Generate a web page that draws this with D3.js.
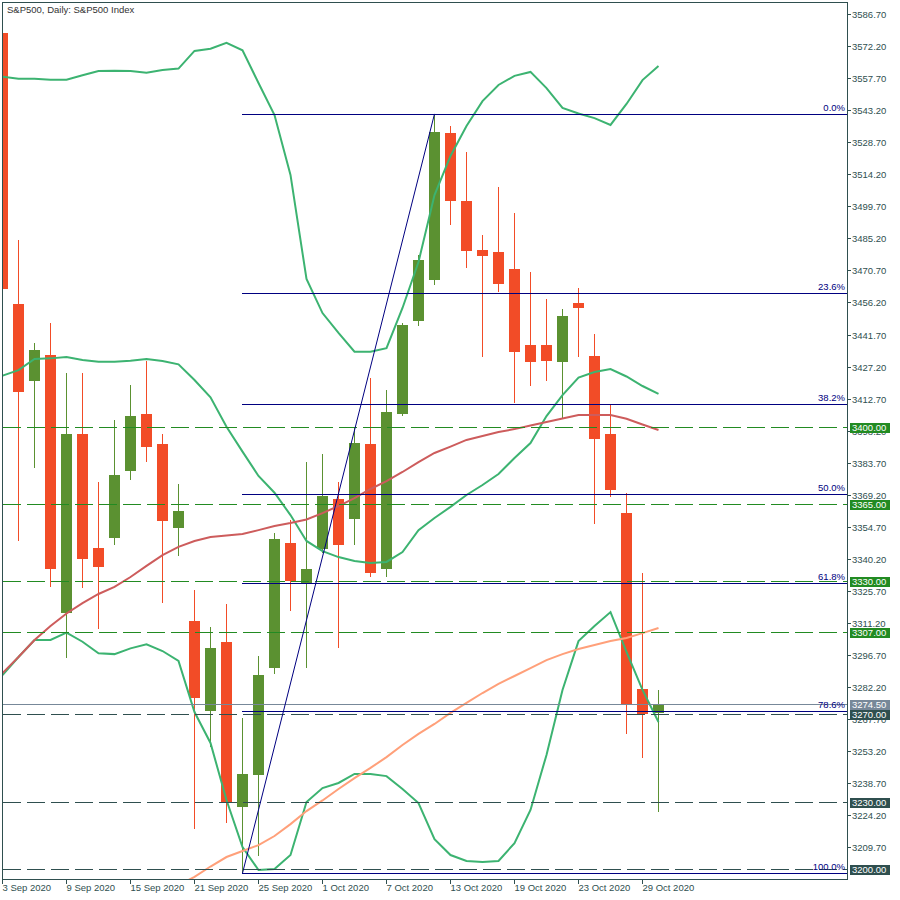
<!DOCTYPE html>
<html><head><meta charset="utf-8">
<script src="https://cdn.jsdelivr.net/npm/d3@7"></script>
<style>
html,body{margin:0;padding:0;background:#fff;}
svg{display:block;font-family:"Liberation Sans",Arial,sans-serif;}
</style></head><body>
<svg id="chart" width="900" height="900"></svg>
<script>
// ---------- DATA ----------
const dates = ["2020-09-03","2020-09-04","2020-09-07","2020-09-08","2020-09-09","2020-09-10","2020-09-11","2020-09-14","2020-09-15","2020-09-16","2020-09-17","2020-09-18","2020-09-21","2020-09-22","2020-09-23","2020-09-24","2020-09-25","2020-09-28","2020-09-29","2020-09-30","2020-10-01","2020-10-02","2020-10-05","2020-10-06","2020-10-07","2020-10-08","2020-10-09","2020-10-12","2020-10-13","2020-10-14","2020-10-15","2020-10-16","2020-10-19","2020-10-20","2020-10-21","2020-10-22","2020-10-23","2020-10-26","2020-10-27","2020-10-28","2020-10-29","2020-10-30"];
const openP  = [3578.1,3455.5,3420.8,3432.4,3315.6,3396.7,3345.1,3349.8,3379.9,3405.7,3392.2,3354.3,3312.1,3271.5,3302.6,3228.1,3242.5,3290.9,3347.4,3328.7,3344.7,3367.3,3358.4,3392.3,3335.7,3405.9,3447.9,3466.5,3532.9,3502.1,3479.9,3479.0,3471.3,3436.9,3436.9,3429.4,3456.1,3432.0,3396.7,3360.9,3281.3,3270.6];
const highP  = [3578.6,3484.5,3437.9,3446.9,3424.3,3424.3,3375.1,3403.0,3418.8,3429.7,3396.7,3374.1,3326.1,3309.4,3319.8,3268.2,3296.2,3351.9,3357.8,3384.1,3387.6,3375.1,3400.0,3422.2,3416.6,3447.0,3477.7,3541.5,3536.0,3524.3,3486.7,3508.4,3496.7,3470.0,3457.8,3453.2,3462.9,3441.9,3409.8,3369.9,3333.8,3280.9];
const lowP   = [3461.5,3348.3,3381.4,3327.6,3295.5,3327.1,3308.5,3346.5,3375.9,3384.1,3320.4,3341.5,3217.8,3255.2,3220.8,3198.0,3205.8,3288.1,3316.6,3290.8,3342.8,3299.9,3346.6,3332.1,3332.1,3405.0,3445.7,3464.2,3491.2,3471.9,3431.7,3461.1,3410.8,3418.5,3420.8,3404.1,3431.7,3356.1,3368.3,3261.1,3250.1,3225.8];
const closeP = [3462.3,3415.7,3434.7,3335.7,3396.7,3340.3,3336.6,3378.1,3404.8,3390.9,3357.5,3361.8,3277.4,3299.9,3230.3,3242.9,3287.6,3349.2,3330.2,3335.6,3368.6,3346.6,3392.7,3333.9,3406.6,3446.0,3475.4,3533.3,3502.2,3479.6,3477.3,3464.7,3433.9,3429.4,3429.8,3450.1,3453.8,3394.6,3371.4,3274.6,3270.1,3274.5];

const bbUpper  = [3558.3,3557.4,3557.4,3557.0,3557.0,3559.0,3560.9,3561.0,3560.9,3560.1,3561.4,3562.0,3570.0,3571.0,3573.7,3570.3,3555.5,3541.0,3513.9,3466.8,3451.4,3442.4,3433.9,3433.9,3435.5,3453.7,3474.5,3504.8,3522.5,3536.0,3547.3,3554.6,3558.7,3560.5,3553.2,3544.2,3541.7,3539.6,3536.5,3546.0,3556.8,3563.2];
const bbMiddle = [3423.1,3425.6,3430.6,3430.9,3431.5,3430.2,3429.4,3429.4,3429.8,3430.6,3429.7,3428.2,3421.1,3413.3,3400.0,3388.7,3377.7,3370.1,3360.0,3348.3,3343.7,3341.0,3339.2,3338.3,3338.8,3343.3,3353.2,3358.7,3363.7,3369.1,3373.6,3378.6,3385.8,3392.6,3404.8,3414.3,3422.2,3424.7,3426.1,3422.7,3418.4,3414.8];
const bbLower  = [3287.6,3295.8,3303.5,3303.5,3306.8,3302.7,3297.5,3297.1,3299.7,3301.5,3298.5,3294.0,3270.9,3256.9,3231.1,3209.8,3199.4,3199.9,3206.2,3230.2,3236.5,3238.8,3242.9,3242.9,3241.9,3236.1,3229.7,3213.4,3206.2,3203.5,3203.0,3203.5,3211.6,3226.6,3251.5,3280.9,3303.0,3309.8,3316.1,3298.1,3280.9,3266.4];
const maRed    = [3288.5,3295.8,3303.5,3309.8,3315.5,3320.2,3324.3,3327.5,3332.0,3337.0,3341.9,3345.6,3348.3,3350.1,3350.8,3351.4,3353.2,3355.1,3356.4,3358.0,3360.9,3364.1,3367.7,3371.8,3375.4,3379.5,3384.0,3388.1,3391.0,3394.0,3395.8,3397.6,3398.9,3400.5,3402.1,3403.7,3405.3,3405.3,3405.3,3403.6,3401.0,3398.5];
const maSalmon = [null,null,null,null,null,null,null,null,null,null,null,3192.6,3196.3,3201.0,3205.3,3208.0,3210.7,3214.8,3220.2,3226.1,3230.9,3236.1,3241.0,3245.6,3250.5,3256.0,3261.0,3265.5,3270.5,3275.0,3279.5,3283.6,3287.2,3290.8,3294.4,3297.1,3299.4,3301.2,3303.0,3304.4,3306.6,3308.9];

const priceTicks = [3586.70,3572.20,3557.70,3543.20,3528.70,3514.20,3499.70,3485.20,3470.70,3456.20,3441.70,3427.20,3412.70,3398.20,3383.70,3369.20,3354.70,3340.20,3325.70,3311.20,3296.70,3282.20,3267.70,3253.20,3238.70,3224.20,3209.70];
const dateTickIndex = [0,4,8,12,16,20,24,28,32,36,40];

const greenLevels = [3400.00,3365.00,3330.00,3307.00];
const darkLevels  = [3270.00,3230.00,3200.00];
const currentPrice = 3274.50;

const fibRatios = [0,0.236,0.382,0.5,0.618,0.786,1];
const fibLabels = ["0.0%","23.6%","38.2%","50.0%","61.8%","78.6%","100.0%"];
const fibHigh = 3541.5, fibLow = 3198.0;
const fibStartIndex = 15, fibEndIndex = 27;

const titleText = "S&P500, Daily:  S&P500 Index";

// ---------- LAYOUT ----------
const L=2, R=847, T=2, B=879;
const C_BEAR="#f24c27", C_BULL="#5b9131", C_BAND="#3cb371", C_RED="#cd5c5c", C_SALMON="#ffa07a";
const C_AXIS="#2f4f4f", C_GREEN="#228b22", C_NAVY="#000080", C_GRAY="#778899";

const svg=d3.select("#chart");
const x=d3.scaleBand().domain(dates).range([-5.5,-5.5+16*dates.length]);
const cx=i=>x(dates[i])+x.bandwidth()/2;
const y=d3.scaleLinear().domain([3209.7,3586.7]).range([847.3,14]);
const fmtDate=d3.timeFormat("%-d %b %Y");
const parse=d3.timeParse("%Y-%m-%d");

svg.append("rect").attr("width",900).attr("height",900).attr("fill","#fff");
svg.append("defs").append("clipPath").attr("id","plot").append("rect")
  .attr("x",L+1).attr("y",T+1).attr("width",R-L-1).attr("height",B-T-1);

const plot=svg.append("g").attr("clip-path","url(#plot)");

// candles
const candles=dates.map((d,i)=>({i,o:openP[i],h:highP[i],l:lowP[i],c:closeP[i]}));
const cg=plot.append("g").attr("shape-rendering","crispEdges");
cg.selectAll(".wick").data(candles).join("rect")
  .attr("x",d=>cx(d.i)-0.5).attr("width",1)
  .attr("y",d=>Math.round(y(d.h))).attr("height",d=>Math.max(1,Math.round(y(d.l))-Math.round(y(d.h))))
  .attr("fill",d=>d.c>=d.o?C_BULL:C_BEAR);
cg.selectAll(".body").data(candles).join("rect")
  .attr("x",d=>cx(d.i)-5.5).attr("width",11)
  .attr("y",d=>Math.round(y(Math.max(d.o,d.c))))
  .attr("height",d=>Math.max(1,Math.round(y(Math.min(d.o,d.c)))-Math.round(y(Math.max(d.o,d.c)))))
  .attr("fill",d=>d.c>=d.o?C_BULL:C_BEAR);

// indicator lines
const line=d3.line().defined(v=>v!=null).x((v,i)=>cx(i)).y(v=>y(v));
[[bbUpper,C_BAND],[bbMiddle,C_BAND],[bbLower,C_BAND],[maRed,C_RED],[maSalmon,C_SALMON]].forEach(([arr,col])=>{
  plot.append("path").datum(arr).attr("d",line).attr("fill","none").attr("stroke",col).attr("stroke-width",2);
});

// horizontal levels
const hg=plot.append("g").attr("shape-rendering","crispEdges");
greenLevels.forEach(p=>{
  hg.append("line").attr("x1",L+1).attr("x2",R).attr("y1",Math.round(y(p))+0.5).attr("y2",Math.round(y(p))+0.5)
    .attr("stroke",C_GREEN).attr("stroke-dasharray","18,6");
});
darkLevels.forEach(p=>{
  hg.append("line").attr("x1",L+1).attr("x2",R).attr("y1",Math.round(y(p))+0.5).attr("y2",Math.round(y(p))+0.5)
    .attr("stroke",C_AXIS).attr("stroke-dasharray","18,6");
});
hg.append("line").attr("x1",L+1).attr("x2",R).attr("y1",Math.round(y(currentPrice))+0.5).attr("y2",Math.round(y(currentPrice))+0.5)
  .attr("stroke",C_GRAY);

// fibonacci
const fx0=cx(fibStartIndex)-0.5;
fibRatios.forEach((r,k)=>{
  const p=fibHigh-(fibHigh-fibLow)*r;
  const yy=Math.round(y(p))+0.5;
  hg.append("line").attr("x1",fx0).attr("x2",R).attr("y1",yy).attr("y2",yy).attr("stroke",C_NAVY);
  plot.append("text").attr("x",845).attr("y",yy-3.5).attr("text-anchor","end")
    .attr("font-size","9.5px").attr("fill",C_NAVY).text(fibLabels[k]);
});
plot.append("line").attr("x1",cx(fibStartIndex)).attr("y1",y(fibLow)).attr("x2",cx(fibEndIndex)).attr("y2",y(fibHigh))
  .attr("stroke",C_NAVY).attr("stroke-width",1);

// frame
svg.append("rect").attr("x",L+0.5).attr("y",T+0.5).attr("width",R-L).attr("height",B-T)
  .attr("fill","none").attr("stroke",C_AXIS).attr("shape-rendering","crispEdges");

// title
svg.append("text").attr("x",7).attr("y",13).attr("font-size","9.5px").attr("fill","#333").text(titleText);

// price axis
const ag=svg.append("g");
priceTicks.forEach(p=>{
  const yy=Math.round(y(p))+0.5;
  ag.append("line").attr("x1",R).attr("x2",R+4).attr("y1",yy).attr("y2",yy).attr("stroke",C_AXIS).attr("shape-rendering","crispEdges");
  ag.append("text").attr("x",R+5).attr("y",yy).attr("dy","0.35em").attr("font-size","9.5px").attr("fill",C_AXIS).text(p.toFixed(2));
});
function box(p,col){
  const yy=Math.round(y(p));
  ag.append("rect").attr("x",850).attr("y",yy-4.5).attr("width",40).attr("height",10).attr("fill",col).attr("shape-rendering","crispEdges");
  ag.append("text").attr("x",852).attr("y",yy+0.5).attr("dy","0.35em").attr("font-size","9.5px").attr("fill","#fff").text(p.toFixed(2));
}
greenLevels.forEach(p=>box(p,C_GREEN));
darkLevels.forEach(p=>box(p,C_AXIS));
box(currentPrice,C_GRAY);

// date axis
dateTickIndex.forEach(i=>{
  const xx=Math.floor(cx(i))+0.5;
  ag.append("line").attr("x1",xx).attr("x2",xx).attr("y1",B).attr("y2",B+5).attr("stroke",C_AXIS).attr("shape-rendering","crispEdges");
  ag.append("text").attr("x",xx).attr("y",891).attr("font-size","9.5px").attr("fill",C_AXIS).text(fmtDate(parse(dates[i])));
});
</script>
</body></html>
